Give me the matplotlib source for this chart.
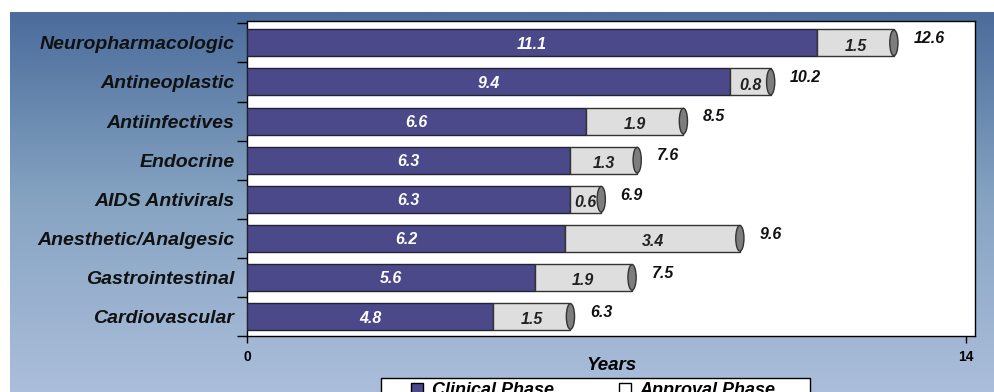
import numpy as np
import matplotlib
matplotlib.use("Agg")
import matplotlib.pyplot as plt
from matplotlib.patches import Patch, Ellipse, Rectangle

categories = ["Neuropharmacologic", "Antineoplastic", "Antiinfectives", "Endocrine",
              "AIDS Antivirals", "Anesthetic/Analgesic", "Gastrointestinal", "Cardiovascular"]
clinical = [11.1, 9.4, 6.6, 6.3, 6.3, 6.2, 5.6, 4.8]
approval = [1.5, 0.8, 1.9, 1.3, 0.6, 3.4, 1.9, 1.5]
totals = [12.6, 10.2, 8.5, 7.6, 6.9, 9.6, 7.5, 6.3]
x_ticks = [0, 14]
x_label = "Years"
legend_labels = ["Clinical Phase", "Approval Phase"]

W, H = 994, 392
fig = plt.figure(figsize=(W / 100, H / 100), dpi=100)
fig.patch.set_facecolor("white")

FONT = ["Liberation Sans", "DejaVu Sans"]

# background gradient
bg = fig.add_axes([10 / W, 0, 1 - 10 / W, 380 / H], zorder=0)
grad = np.linspace(0, 1, 256).reshape(-1, 1)
top = np.array([0x4b, 0x6c, 0x9c]) / 255
mid = np.array([0x86, 0xa4, 0xc2]) / 255
bot = np.array([0xab, 0xbe, 0xdb]) / 255
g = grad[..., None]
cols = np.where(g < 0.5, top + (mid - top) * (g / 0.5), mid + (bot - mid) * ((g - 0.5) / 0.5))
bg.imshow(cols, aspect="auto", extent=[0, 1, 0, 1], origin="upper")
bg.set_axis_off()

ax = fig.add_axes([247 / W, 1 - 336 / H, (975 - 247) / W, (336 - 21) / H], zorder=2)
ax.set_facecolor("white")

y = np.arange(len(categories))
bh = 0.69
clin_color = "#4b4989"
appr_color = "#dedede"
ax.barh(y, clinical, height=bh, color=clin_color, edgecolor="#222233", linewidth=1.0, zorder=3)
ax.barh(y, approval, left=clinical, height=bh, color=appr_color, edgecolor="#333333",
        linewidth=1.0, zorder=3)

for i in range(len(categories)):
    ax.add_patch(Ellipse((totals[i], y[i]), width=0.16, height=bh * 0.95,
                         facecolor="#7d7d7d", edgecolor="#333333", linewidth=1.0, zorder=4))
    ax.text(clinical[i] / 2, y[i] + 0.04, f"{clinical[i]:.1f}", color="white",
            fontsize=11.5, fontweight="bold", fontstyle="italic", family=FONT,
            ha="center", va="center", zorder=5)
    ax.text(clinical[i] + approval[i] / 2, y[i] + 0.08, f"{approval[i]:.1f}", color="#222222",
            fontsize=11.5, fontweight="bold", fontstyle="italic", family=FONT,
            ha="center", va="center", zorder=5)
    ax.annotate(f"{totals[i]:.1f}", xy=(totals[i], y[i]), xytext=(14, 3),
                textcoords="offset points", color="#111111", fontsize=11.5,
                fontweight="bold", fontstyle="italic", family=FONT,
                ha="left", va="center", zorder=5)

ax.set_xlim(0, 14.18)
ax.set_ylim(7.46, -0.56)
ax.set_xticks(x_ticks)
ax.set_xticklabels([str(t) for t in x_ticks], fontsize=10, fontweight="bold", family=FONT)
ax.tick_params(axis="x", length=5, width=1, pad=5, colors="black")
ax.set_yticks(y)
ax.set_yticklabels(categories, fontsize=14, fontweight="bold", fontstyle="italic", family=FONT,
                   color="#111111")
ax.tick_params(axis="y", length=0, pad=9)
ax.set_yticks(np.arange(-0.5, len(categories), 1.0), minor=True)
ax.tick_params(axis="y", which="minor", length=7, width=1, color="black")
ax.set_xlabel(x_label, fontsize=13.5, fontweight="bold", fontstyle="italic", family=FONT,
              labelpad=-5)
for s in ax.spines.values():
    s.set_color("black")
    s.set_linewidth(1.0)

# legend frame (extends past the bottom edge, as in the reference)
fig.patches.append(Rectangle((381 / W, -0.05), (810 - 381) / W, 0.05 + 1 - 378 / H,
                             transform=fig.transFigure, facecolor="white", edgecolor="black",
                             linewidth=1.0, zorder=4))
handles = [Patch(facecolor=clin_color, edgecolor="black", label=legend_labels[0]),
           Patch(facecolor="white", edgecolor="black", label=legend_labels[1])]
leg = fig.legend(handles=handles, loc="upper left", bbox_to_anchor=(411 / W, 1 - 382 / H),
                 ncol=2, frameon=False, borderpad=0, borderaxespad=0,
                 prop={"family": FONT, "weight": "bold", "style": "italic", "size": 13},
                 handlelength=0.65, handleheight=0.65, handletextpad=0.5, columnspacing=3.6)
leg.set_zorder(6)

fig.savefig("out.png", dpi=100)
